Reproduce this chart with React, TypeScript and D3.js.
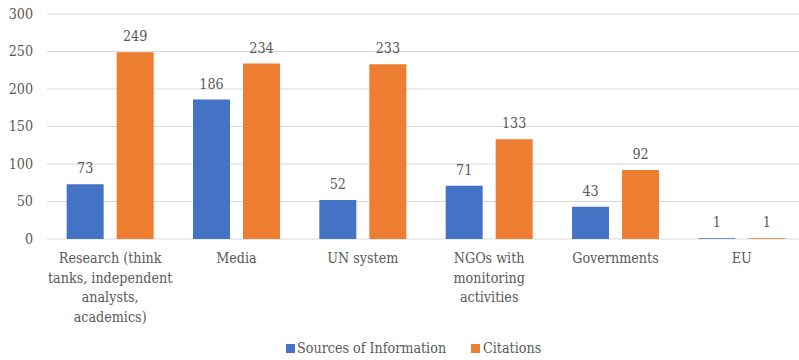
import React from "react";
import * as d3 from "d3";

const categories: string[][] = [
  ["Research (think", "tanks, independent", "analysts,", "academics)"],
  ["Media"],
  ["UN system"],
  ["NGOs with", "monitoring", "activities"],
  ["Governments"],
  ["EU"],
];
const sourcesOfInformation = [73, 186, 52, 71, 43, 1];
const citations = [249, 234, 233, 133, 92, 1];
const seriesNames = ["Sources of Information", "Citations"];
const seriesColors = ["#4472c4", "#ed7d31"];
const yTicks = [0, 50, 100, 150, 200, 250, 300];

const W = 799;
const H = 360;
const font = "'DejaVu Serif Condensed', 'DejaVu Serif', serif";
const fontSize = 14.2;
const textColor = "#595959";

export default function App() {
  const x = d3
    .scaleBand<number>()
    .domain(d3.range(categories.length))
    .range([47, 805])
    .paddingInner(0)
    .paddingOuter(0);
  const y = d3.scaleLinear().domain([0, 300]).range([239, 14]);
  const inner = d3
    .scaleBand<number>()
    .domain([0, 1])
    .range([x.bandwidth() / 2 - 43.5, x.bandwidth() / 2 + 43.5])
    .paddingInner(0.26);
  const series = [sourcesOfInformation, citations];

  return (
    <svg
      width={W}
      height={H}
      style={{ position: "absolute", left: 0, top: 0, background: "#fff", fontFamily: font }}
    >
      {yTicks.map((t) => (
        <g key={t}>
          <line x1={47} x2={W} y1={y(t)} y2={y(t)} stroke="#d9d9d9" strokeWidth={1} />
          <text x={33} y={y(t)} dy="0.35em" textAnchor="end" fontSize={fontSize} fill={textColor}>
            {t}
          </text>
        </g>
      ))}
      {series.map((vals, s) =>
        vals.map((v, i) => {
          const bx = (x(i) as number) + (inner(s) as number);
          return (
            <g key={`${s}-${i}`}>
              <rect
                x={bx}
                y={y(v)}
                width={inner.bandwidth()}
                height={y(0) - y(v)}
                fill={seriesColors[s]}
              />
              <text
                x={bx + inner.bandwidth() / 2}
                y={y(v) - 11}
                textAnchor="middle"
                fontSize={fontSize}
                fill={textColor}
              >
                {v}
              </text>
            </g>
          );
        })
      )}
      {categories.map((lines, i) => (
        <text
          key={i}
          x={(x(i) as number) + x.bandwidth() / 2}
          y={263}
          textAnchor="middle"
          fontSize={fontSize}
          fill={textColor}
        >
          {lines.map((l, k) => (
            <tspan key={k} x={(x(i) as number) + x.bandwidth() / 2} dy={k === 0 ? 0 : 19.5}>
              {l}
            </tspan>
          ))}
        </text>
      ))}
      <g>
        <rect x={286} y={344} width={9} height={9} fill={seriesColors[0]} />
        <text x={297} y={353} fontSize={fontSize} fill={textColor}>
          {seriesNames[0]}
        </text>
        <rect x={471} y={344} width={9} height={9} fill={seriesColors[1]} />
        <text x={483} y={353} fontSize={fontSize} fill={textColor}>
          {seriesNames[1]}
        </text>
      </g>
    </svg>
  );
}
